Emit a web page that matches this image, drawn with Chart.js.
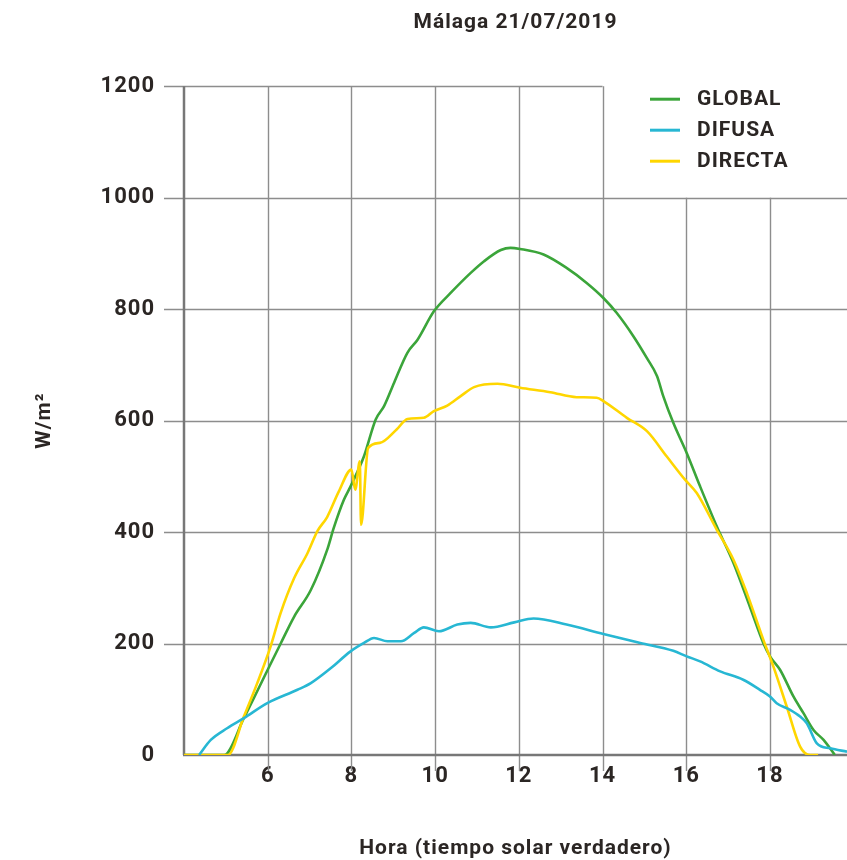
<!DOCTYPE html>
<html>
<head>
<meta charset="utf-8">
<script src="https://cdn.jsdelivr.net/npm/chart.js@4.4.1/dist/chart.umd.min.js"></script>
<style>
    body { margin: 0; background: #fff; }
    #wrap { width: 847px; height: 860px; }
</style>
</head>
<body>
<div id="wrap"><canvas id="radChart" width="847" height="860"></canvas></div>
<script>
const chartTitle = 'Málaga 21/07/2019';
const seriesNames = ['GLOBAL', 'DIFUSA', 'DIRECTA'];

const xTicks = [6, 8, 10, 12, 14, 16, 18];
const yTicks = [0, 200, 400, 600, 800, 1000, 1200];

const globalHours = [4.0, 4.96, 5.43, 6.0, 6.31, 6.63, 7.03, 7.42, 7.58, 7.82, 7.98, 8.3, 8.58, 8.78, 9.02, 9.34, 9.58, 9.97, 10.37, 10.85, 11.17, 11.57, 11.8, 12.03, 12.59, 13.14, 13.62, 14.02, 14.34, 14.74, 15.06, 15.3, 15.45, 15.69, 16.01, 16.33, 16.73, 17.13, 17.52, 17.84, 18.0, 18.24, 18.56, 18.8, 19.04, 19.28, 19.55];
const globalValues = [0, 0, 66, 153, 200, 248, 296, 368, 408, 458, 482, 536, 602, 626, 668, 722, 745, 796, 829, 865, 886, 906, 910, 908, 898, 874, 847, 820, 793, 751, 712, 680, 644, 596, 542, 482, 410, 344, 266, 201, 177, 153, 105, 75, 45, 27, 0];

const difusaHours = [4.36, 4.64, 5.03, 5.43, 5.99, 6.71, 7.03, 7.51, 7.98, 8.3, 8.54, 8.86, 9.18, 9.5, 9.73, 10.09, 10.53, 10.85, 11.33, 11.89, 12.35, 13.14, 14.02, 14.9, 15.69, 16.01, 16.33, 16.81, 17.36, 17.76, 18.0, 18.16, 18.48, 18.72, 18.88, 19.12, 19.44, 19.84];
const difusaValues = [0, 27, 48, 66, 93, 117, 129, 156, 186, 201, 210, 204, 204, 219, 229, 222, 234, 237, 229, 238, 245, 234, 217, 201, 187, 177, 168, 150, 135, 117, 105, 93, 81, 69, 57, 21, 12, 6];

const directaHours = [4.0, 5.05, 5.43, 5.75, 6.07, 6.31, 6.63, 6.95, 7.19, 7.42, 7.7, 8.0, 8.09, 8.2, 8.23, 8.4, 8.68, 9.08, 9.34, 9.73, 9.97, 10.29, 10.61, 10.93, 11.49, 12.03, 12.75, 13.38, 13.86, 14.02, 14.58, 15.06, 15.53, 15.97, 16.25, 16.73, 17.13, 17.45, 17.84, 18.08, 18.4, 18.72, 18.96, 19.15];
const directaValues = [0, 0, 69, 129, 195, 255, 317, 362, 402, 427, 473, 512, 476, 527, 413, 551, 560, 584, 603, 605, 617, 627, 644, 660, 666, 659, 651, 642, 641, 635, 605, 581, 536, 494, 470, 404, 350, 290, 207, 159, 87, 15, 0, 0];

const FONT = "Roboto, 'Liberation Sans', sans-serif";
const INK = '#2b2624';

function toPoints(hours, values) {
    return hours.map((h, i) => ({ x: h, y: values[i] }));
}

function line(ctx, x1, y1, x2, y2) {
    ctx.beginPath();
    ctx.moveTo(x1, y1);
    ctx.lineTo(x2, y2);
    ctx.stroke();
}

// the printed chart uses slightly tracked lettering
const tracking = {
    id: 'tracking',
    beforeDraw(chart) {
        chart.ctx.letterSpacing = '1px';
    },
};

// grid drawn by hand: the top rows stop short where the legend sits
const paperGrid = {
    id: 'paperGrid',
    beforeDatasetsDraw(chart) {
        const { ctx, chartArea, scales: { x, y } } = chart;
        ctx.save();
        ctx.strokeStyle = '#8d8d8d';
        ctx.lineWidth = 1.4;
        yTicks.forEach((v) => {
            if (v === 0) return;
            const py = Math.round(y.getPixelForValue(v)) + 0.5;
            const right = v === 1200 ? x.getPixelForValue(14) : chartArea.right;
            line(ctx, chartArea.left - 20, py, right, py);
        });
        xTicks.forEach((v) => {
            const px = Math.round(x.getPixelForValue(v)) + 0.5;
            const top = y.getPixelForValue(v >= 16 ? 1000 : 1200);
            line(ctx, px, top, px, chartArea.bottom + 16);
        });
        ctx.strokeStyle = '#777';
        ctx.lineWidth = 2.5;
        const y0 = y.getPixelForValue(0);
        line(ctx, chartArea.left, y.getPixelForValue(1200), chartArea.left, y0);
        line(ctx, chartArea.left - 1, y0, chartArea.right, y0);
        ctx.restore();
    },
};

const sideLegend = {
    id: 'sideLegend',
    afterDraw(chart) {
        const { ctx, chartArea } = chart;
        ctx.save();
        ctx.font = `bold 21px ${FONT}`;
        ctx.textBaseline = 'middle';
        ctx.fillStyle = INK;
        seriesNames.forEach((name, i) => {
            const ds = chart.data.datasets[i];
            const rowY = chartArea.top + 13 + i * 31;
            ctx.strokeStyle = ds.borderColor;
            ctx.lineWidth = 3;
            line(ctx, chartArea.right - 197, rowY, chartArea.right - 167, rowY);
            ctx.fillText(name, chartArea.right - 150, rowY + 1);
        });
        ctx.restore();
    },
};

Chart.defaults.font.family = FONT;
Chart.defaults.font.weight = 'bold';
Chart.defaults.color = INK;

const lineStyle = {
    pointRadius: 0,
    borderWidth: 2.6,
    cubicInterpolationMode: 'monotone',
    fill: false,
};

new Chart(document.getElementById('radChart'), {
    type: 'line',
    data: {
        datasets: [
            { label: seriesNames[0], data: toPoints(globalHours, globalValues), borderColor: '#3ba53a', order: 2, ...lineStyle },
            { label: seriesNames[1], data: toPoints(difusaHours, difusaValues), borderColor: '#27b7d3', order: 0, ...lineStyle },
            { label: seriesNames[2], data: toPoints(directaHours, directaValues), borderColor: '#ffd600', order: 1, ...lineStyle },
        ],
    },
    options: {
        responsive: false,
        animation: false,
        layout: { padding: 0 },
        plugins: {
            legend: { display: false },
            tooltip: { enabled: false },
            title: {
                display: true,
                text: chartTitle,
                fullSize: false,
                font: { size: 21, weight: 'bold' },
                color: INK,
                padding: { top: 10, bottom: 51 },
            },
        },
        scales: {
            x: {
                type: 'linear',
                min: 4,
                max: 19.84,
                afterBuildTicks: (scale) => { scale.ticks = xTicks.map((v) => ({ value: v })); },
                afterFit: (scale) => { scale.height = 105; },
                grid: { display: false, drawTicks: false },
                border: { display: false },
                ticks: { font: { size: 22 }, padding: 8, maxRotation: 0, callback: (v) => String(v) },
                title: {
                    display: true,
                    text: 'Hora (tiempo solar verdadero)',
                    font: { size: 21, lineHeight: 1.1 },
                    padding: 0,
                },
            },
            y: {
                min: 0,
                max: 1200,
                afterBuildTicks: (scale) => { scale.ticks = yTicks.map((v) => ({ value: v })); },
                afterFit: (scale) => { scale.width = 184; },
                grid: { display: false, drawTicks: false },
                border: { display: false },
                ticks: { font: { size: 22 }, padding: 29, callback: (v) => String(v) },
                title: {
                    display: true,
                    text: 'W/m²',
                    font: { size: 21 },
                    padding: { top: 32, bottom: 0 },
                },
            },
        },
    },
    plugins: [tracking, paperGrid, sideLegend],
});
</script>
</body>
</html>
